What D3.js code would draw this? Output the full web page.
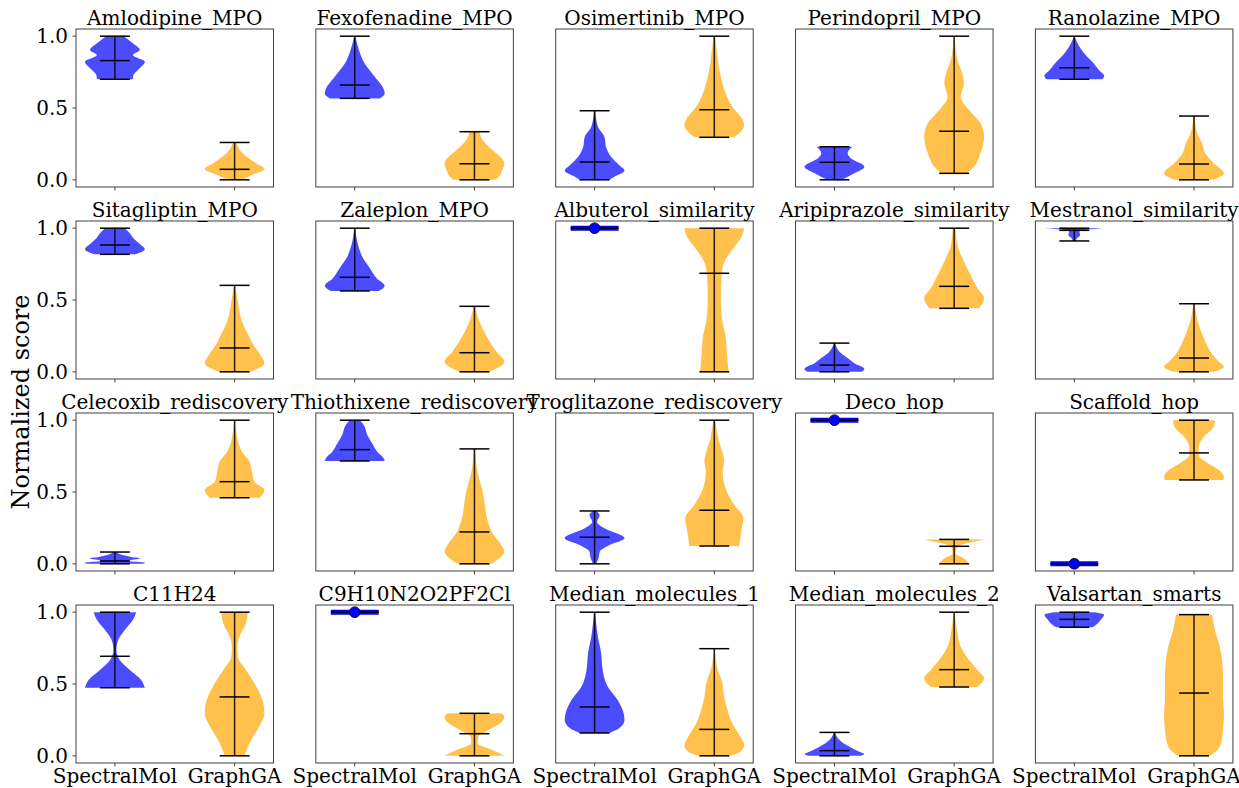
<!DOCTYPE html>
<html><head><meta charset="utf-8">
<script src="https://cdn.jsdelivr.net/npm/d3@7"></script>
<style>body{margin:0;background:#fff} svg{display:block} text{font-family:"DejaVu Serif",serif;fill:#000}</style>
</head><body><svg id="c" width="1239" height="788"></svg>
<script>
const tasks = ["Amlodipine_MPO","Fexofenadine_MPO","Osimertinib_MPO","Perindopril_MPO","Ranolazine_MPO",
  "Sitagliptin_MPO","Zaleplon_MPO","Albuterol_similarity","Aripiprazole_similarity","Mestranol_similarity",
  "Celecoxib_rediscovery","Thiothixene_rediscovery","Troglitazone_rediscovery","Deco_hop","Scaffold_hop",
  "C11H24","C9H10N2O2PF2Cl","Median_molecules_1","Median_molecules_2","Valsartan_smarts"];
const methods = ["SpectralMol","GraphGA"];
const yTickValues = [0.0, 0.5, 1.0];
const yLabel = "Normalized score";

// [min, median, max] per task
const spectralStats = [[0.70,0.83,1.0],[0.567,0.66,1.0],[0.0,0.124,0.481],[0.0,0.122,0.23],[0.70,0.78,1.0],
  [0.818,0.883,1.0],[0.563,0.658,1.0],[1,1,1],[0,0.047,0.2],[0.911,0.985,1.0],
  [0,0.02,0.082],[0.716,0.795,1.0],[0,0.185,0.368],[1,1,1],[0,0,0],
  [0.474,0.693,1.0],[1,1,1],[0.159,0.34,1.0],[0,0.036,0.163],[0.895,0.95,1.0]];
const graphgaStats = [[0,0.073,0.26],[0,0.112,0.335],[0.296,0.488,1.0],[0.045,0.338,1.0],[0,0.11,0.444],
  [0,0.166,0.602],[0,0.133,0.456],[0,0.686,1.0],[0.442,0.595,1.0],[0,0.096,0.474],
  [0.46,0.572,1.0],[0,0.222,0.8],[0.124,0.373,1.0],[0,0.122,0.17],[0.584,0.772,1.0],
  [0,0.41,1.0],[0,0.154,0.296],[0,0.184,0.746],[0.479,0.6,1.0],[0,0.437,0.983]];

// density outlines: [score, relative half-width]; null = all scores identical
const spectralShapes = [
  [[0.70,0.6],[0.73,0.62],[0.765,0.77],[0.822,1.0],[0.869,0.6],[0.904,0.83],[0.95,0.6],[0.98,0.42],[1.0,0.3]],
  [[0.567,0.83],[0.60,1.0],[0.625,0.98],[0.718,0.67],[0.81,0.33],[0.904,0.14],[1.0,0.02]],
  [[0,0.5],[0.022,0.66],[0.063,1.0],[0.103,0.82],[0.161,0.55],[0.23,0.38],[0.30,0.33],[0.37,0.11],[0.481,0.02]],
  [[0,0.2],[0.01,0.33],[0.045,0.66],[0.091,1.0],[0.15,0.55],[0.185,0.44],[0.23,0.6]],
  [[0.70,0.93],[0.723,1.0],[0.765,0.82],[0.822,0.6],[0.88,0.33],[0.95,0.11],[1.0,0.01]],
  [[0.818,0.68],[0.853,1.0],[0.895,0.8],[0.93,0.62],[0.964,0.5],[1.0,0.33]],
  [[0.563,0.8],[0.60,1.0],[0.65,0.74],[0.72,0.51],[0.79,0.28],[0.883,0.11],[1.0,0.02]],
  null,
  [[0,0.9],[0.02,1.0],[0.059,0.67],[0.094,0.45],[0.14,0.17],[0.2,0.02]],
  [[0.911,0.05],[0.93,0.09],[0.953,0.2],[0.976,0.17],[0.99,0.45],[1.0,1.0]],
  [[0,0.95],[0.008,1.0],[0.02,0.45],[0.038,0.85],[0.05,0.5],[0.065,0.2],[0.082,0.05]],
  [[0.716,1.0],[0.734,0.97],[0.78,0.75],[0.839,0.58],[0.897,0.42],[0.967,0.3],[1.0,0.17]],
  [[0,0.05],[0.038,0.13],[0.084,0.17],[0.131,0.5],[0.178,1.0],[0.247,0.33],[0.293,0.08],[0.34,0.17],[0.368,0.05]],
  null,
  null,
  [[0.474,1.0],[0.528,0.88],[0.597,0.5],[0.667,0.16],[0.737,0.05],[0.806,0.11],[0.876,0.33],[0.946,0.6],[1.0,0.71]],
  null,
  [[0.159,0.5],[0.192,0.82],[0.249,1.0],[0.296,0.97],[0.389,0.77],[0.481,0.44],[0.597,0.27],[0.714,0.22],[0.83,0.11],[1.0,0.02]],
  [[0,0.88],[0.012,1.0],[0.029,0.83],[0.063,0.5],[0.11,0.17],[0.163,0.02]],
  [[0.895,0.6],[0.911,0.72],[0.946,0.88],[0.983,1.0],[1.0,0.66]]
];
const graphgaShapes = [
  [[0,0.25],[0.033,0.58],[0.075,1.0],[0.115,0.72],[0.185,0.27],[0.26,0.05]],
  [[0,0.7],[0.022,0.82],[0.068,0.93],[0.115,1.0],[0.16,0.86],[0.207,0.6],[0.277,0.27],[0.335,0.17]],
  [[0.296,0.66],[0.335,0.88],[0.382,1.0],[0.44,0.88],[0.509,0.6],[0.602,0.38],[0.718,0.22],[0.881,0.09],[1.0,0.03]],
  [[0.045,0.44],[0.091,0.66],[0.185,0.88],[0.30,1.0],[0.393,0.88],[0.486,0.5],[0.579,0.22],[0.672,0.33],[0.742,0.27],[0.834,0.11],[1.0,0.02]],
  [[0,0.66],[0.045,1.0],[0.115,0.66],[0.185,0.38],[0.254,0.27],[0.324,0.11],[0.444,0.02]],
  [[0,0.52],[0.059,1.0],[0.117,0.86],[0.187,0.63],[0.256,0.46],[0.349,0.25],[0.488,0.11],[0.602,0.02]],
  [[0,0.5],[0.07,1.0],[0.14,0.74],[0.21,0.51],[0.28,0.32],[0.349,0.17],[0.456,0.02]],
  [[0,0.48],[0.129,0.42],[0.244,0.38],[0.36,0.26],[0.5,0.22],[0.662,0.24],[0.756,0.32],[0.848,0.59],[0.94,0.91],[1.0,1.0]],
  [[0.442,0.83],[0.512,1.0],[0.581,0.78],[0.674,0.55],[0.767,0.33],[0.883,0.11],[1.0,0.05]],
  [[0,0.66],[0.036,1.0],[0.07,0.83],[0.14,0.55],[0.233,0.33],[0.349,0.13],[0.474,0.02]],
  [[0.46,0.83],[0.514,1.0],[0.572,0.66],[0.641,0.58],[0.71,0.5],[0.78,0.25],[0.897,0.07],[1.0,0.02]],
  [[0,0.58],[0.038,0.83],[0.084,1.0],[0.131,0.9],[0.222,0.58],[0.317,0.42],[0.479,0.3],[0.665,0.08],[0.8,0.03]],
  [[0.124,0.83],[0.247,0.92],[0.317,0.97],[0.409,0.67],[0.502,0.42],[0.641,0.28],[0.711,0.33],[0.874,0.13],[1.0,0.03]],
  [[0,0.48],[0.038,0.32],[0.073,0.05],[0.12,0.11],[0.154,0.65],[0.17,1.0]],
  [[0.584,0.97],[0.605,1.0],[0.64,0.91],[0.698,0.48],[0.756,0.16],[0.814,0.16],[0.883,0.32],[0.953,0.65],[1.0,0.7]],
  [[0,0.33],[0.11,0.55],[0.203,0.82],[0.296,1.0],[0.389,0.93],[0.505,0.66],[0.597,0.38],[0.69,0.11],[0.76,0.09],[0.829,0.16],[0.923,0.38],[1.0,0.44]],
  [[0,1.0],[0.04,0.6],[0.087,0.11],[0.133,0.13],[0.18,0.48],[0.226,0.86],[0.272,1.0],[0.296,0.9]],
  [[0,0.55],[0.029,0.87],[0.075,1.0],[0.133,0.87],[0.226,0.6],[0.319,0.44],[0.412,0.33],[0.505,0.27],[0.62,0.09],[0.746,0.02]],
  [[0.479,0.77],[0.54,1.0],[0.6,0.77],[0.667,0.5],[0.76,0.22],[0.876,0.09],[1.0,0.02]],
  [[0,0.54],[0.063,0.86],[0.18,0.97],[0.296,1.0],[0.412,0.97],[0.528,0.97],[0.644,0.95],[0.76,0.86],[0.876,0.7],[0.983,0.6]]
];

const bodyColors = ["rgba(0,0,255,0.7)","rgba(255,165,0,0.7)"];
const left0 = 76, colStep = 239.85, pw = 197.5, top0 = 29, rowStep = 192, ph = 158;
const svg = d3.select("#c");

tasks.forEach((t, i) => {
  const r = Math.floor(i / 5), c = i % 5;
  const x0 = left0 + c * colStep, y0 = top0 + r * rowStep;
  const x = d3.scaleLinear().domain([0.675, 2.325]).range([x0, x0 + pw]);
  const y = d3.scaleLinear().domain([-0.05, 1.05]).range([y0 + ph, y0]);
  const g = svg.append("g");

  const sets = [[spectralStats[i], spectralShapes[i]], [graphgaStats[i], graphgaShapes[i]]];
  sets.forEach(([st, sh], k) => {
    const pos = k + 1;
    const hw = x(pos + 0.25) - x(pos);
    if (!sh) {
      g.append("line").attr("x1", x(pos - 0.2)).attr("x2", x(pos + 0.2))
        .attr("y1", y(st[1])).attr("y2", y(st[1])).attr("stroke", "blue").attr("stroke-width", 5);
      g.append("line").attr("x1", x(pos - 0.2)).attr("x2", x(pos + 0.2))
        .attr("y1", y(st[1])).attr("y2", y(st[1])).attr("stroke", "#000").attr("stroke-width", 1.6);
      g.append("circle").attr("cx", x(pos)).attr("cy", y(st[1])).attr("r", 5.3)
        .attr("fill", "blue").attr("stroke", "#000").attr("stroke-width", 1);
      return;
    }
    const area = d3.area()
      .y(d => y(d[0]))
      .x0(d => x(pos) - d[1] * hw)
      .x1(d => x(pos) + d[1] * hw)
      .curve(d3.curveMonotoneY);
    g.append("path").datum(sh).attr("d", area).attr("fill", bodyColors[k]).attr("stroke", "none");
    const cap = x(pos + 0.125) - x(pos);
    g.append("line").attr("x1", x(pos)).attr("x2", x(pos)).attr("y1", y(st[0])).attr("y2", y(st[2]))
      .attr("stroke", "#000").attr("stroke-width", 1.5).attr("stroke-opacity", 0.85);
    [st[0], st[1], st[2]].forEach(v => {
      g.append("line").attr("x1", x(pos) - cap).attr("x2", x(pos) + cap).attr("y1", y(v)).attr("y2", y(v))
        .attr("stroke", "#000").attr("stroke-width", 1.5);
    });
  });

  // frame
  g.append("rect").attr("x", x0).attr("y", y0).attr("width", pw).attr("height", ph)
    .attr("fill", "none").attr("stroke", "#404040").attr("stroke-width", 1);

  // x ticks
  [1, 2].forEach((p, k) => {
    g.append("line").attr("x1", x(p)).attr("x2", x(p)).attr("y1", y0 + ph).attr("y2", y0 + ph + 3.5)
      .attr("stroke", "#404040").attr("stroke-width", 1);
    if (r === 3) {
      g.append("text").attr("x", x(p)).attr("y", y0 + ph + 20).attr("text-anchor", "middle")
        .attr("font-size", 20).text(methods[k]);
    }
  });
  // y ticks
  if (c === 0) {
    yTickValues.forEach(v => {
      g.append("line").attr("x1", x0 - 3.5).attr("x2", x0).attr("y1", y(v)).attr("y2", y(v))
        .attr("stroke", "#404040").attr("stroke-width", 1);
      g.append("text").attr("x", x0 - 8).attr("y", y(v)).attr("dy", "0.36em").attr("text-anchor", "end")
        .attr("font-size", 20).text(v.toFixed(1));
    });
  }
  // title
  g.append("text").attr("x", x0 + pw / 2).attr("y", y0 - 4.5).attr("text-anchor", "middle")
    .attr("font-size", 20).text(t);
});

svg.append("text").attr("transform", "translate(29,402) rotate(-90)").attr("text-anchor", "middle")
  .attr("font-size", 24).text(yLabel);
</script></body></html>
